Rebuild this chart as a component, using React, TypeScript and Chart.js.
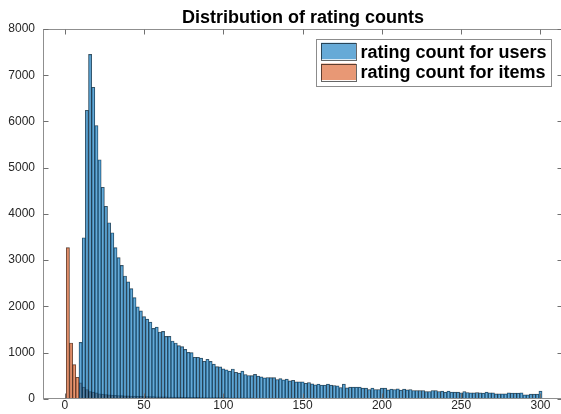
import React, { useEffect, useRef } from 'react';
import { Chart, registerables } from 'chart.js';

Chart.register(...registerables);

const chartTitle = 'Distribution of rating counts';
const seriesNames = ['rating count for users', 'rating count for items'];

const binWidth = 2;
const userFirstBinCenter = 10;
const itemFirstBinCenter = 2;

// users histogram, bins centred at 10, 12, ..., 300
const userCounts = [
  1221, 3484, 6243, 7450, 6740, 5912, 5172, 4576, 4166, 3808,
  3592, 3269, 3053, 2887, 2657, 2528, 2385, 2190, 1990, 1903,
  1778, 1724, 1660, 1523, 1550, 1445, 1458, 1351, 1351, 1250,
  1207, 1149, 1130, 1070, 1006, 1000, 898, 898, 880, 812,
  855, 810, 750, 695, 690, 647, 625, 600, 645, 575,
  556, 600, 525, 505, 500, 530, 489, 474, 453, 460,
  457, 457, 417, 438, 410, 424, 388, 402, 366, 366,
  366, 337, 352, 323, 302, 316, 295, 295, 316, 295,
  287, 280, 244, 316, 237, 251, 251, 251, 251, 230,
  230, 201, 230, 201, 201, 230, 230, 194, 208, 201,
  215, 187, 208, 194, 201, 180, 180, 180, 180, 158,
  158, 180, 180, 158, 165, 144, 165, 144, 144, 144,
  129, 158, 136, 129, 129, 136, 129, 122, 144, 129,
  129, 108, 108, 108, 108, 129, 122, 122, 122, 129,
  86, 86, 101, 101, 101, 165,
];

// items histogram, bins centred at 2, 4, ..., 300
const itemCounts = [
  3270, 1207, 740, 467, 345, 252, 201, 157, 144, 129,
  110, 101, 93, 86, 80, 76, 72, 69, 64, 62,
  60, 57, 55, 54, 50, 49, 47, 46, 44, 42,
  41, 40, 39, 37, 36, 35, 34, 33, 32, 31,
  30, 30, 29, 28, 27, 27, 26, 25, 25, 24,
  24, 23, 22, 22, 21, 21, 20, 19, 19, 18,
  18, 17, 17, 16, 16, 15, 15, 15, 14, 14,
  14, 13, 13, 13, 12, 12, 12, 11, 11, 11,
  11, 10, 10, 10, 10, 9, 9, 9, 9, 9,
  8, 8, 8, 8, 8, 8, 7, 7, 7, 7,
  7, 7, 7, 6, 6, 6, 6, 6, 6, 6,
  6, 5, 5, 5, 5, 5, 5, 5, 5, 5,
  5, 4, 4, 4, 4, 4, 4, 4, 4, 4,
  4, 4, 4, 3, 3, 3, 3, 3, 3, 3,
  3, 3, 3, 3, 3, 3, 3, 3, 3, 3,
];

const xTickValues = [0, 50, 100, 150, 200, 250, 300];
const yTickValues = [0, 1000, 2000, 3000, 4000, 5000, 6000, 7000, 8000];
const xLimits = [-13.7, 314.2];
const yLimits = [0, 8000];

const FONT = '"Liberation Sans", Arial, Helvetica, sans-serif';
const TEXT = '#262626';
const AXIS_LINE = '#8f8f8f';
const TICK_LINE = '#707070';
const USER_FILL = 'rgba(0,114,189,0.6)';
const ITEM_FILL = 'rgba(217,83,25,0.6)';
const EDGE = 'rgba(0,0,0,0.7)';

const toPoints = (first: number, counts: number[]) =>
  counts.map((y, i) => ({ x: first + i * binWidth, y }));

const matlabAxes = {
  id: 'matlabAxes',
  afterDatasetsDraw(chart: any) {
    const { ctx, chartArea: a } = chart;
    const xs = chart.scales.x;
    const ys = chart.scales.y;
    ctx.save();
    const L = Math.round(a.left) + 0.5;
    const R = Math.round(a.right) - 0.5;
    const T = Math.round(a.top) + 0.5;
    const B = Math.round(a.bottom) - 0.5;
    ctx.lineWidth = 1;
    ctx.strokeStyle = AXIS_LINE;
    ctx.strokeRect(L, T, R - L, B - T);
    const tl = 5;
    ctx.strokeStyle = TICK_LINE;
    ctx.beginPath();
    for (const v of xTickValues) {
      const px = Math.round(xs.getPixelForValue(v)) + 0.5;
      ctx.moveTo(px, B);
      ctx.lineTo(px, B - tl);
      ctx.moveTo(px, T);
      ctx.lineTo(px, T + tl);
    }
    for (const v of yTickValues) {
      const py = Math.round(ys.getPixelForValue(v)) + 0.5;
      ctx.moveTo(L, py);
      ctx.lineTo(L + tl, py);
      ctx.moveTo(R, py);
      ctx.lineTo(R - tl, py);
    }
    ctx.stroke();

    // title
    ctx.fillStyle = '#000';
    ctx.font = `bold 18px ${FONT}`;
    ctx.textAlign = 'center';
    ctx.textBaseline = 'alphabetic';
    ctx.fillText(chartTitle, (a.left + a.right) / 2, 23);

    // legend
    ctx.font = `bold 18px ${FONT}`;
    const textW = Math.max(...seriesNames.map((s) => ctx.measureText(s).width));
    const padL = 4.5, patchW = 35, patchH = 16.5, gap = 4.5, padR = 4.5, rowH = 20.8;
    const boxW = padL + patchW + gap + textW + padR;
    const boxH = 47;
    const boxRight = a.right - 12;
    const boxTop = a.top + 10;
    const boxX = boxRight - boxW;
    ctx.fillStyle = '#fff';
    ctx.fillRect(boxX, boxTop, boxW, boxH);
    ctx.strokeStyle = '#8c8c8c';
    ctx.strokeRect(Math.round(boxX) + 0.5, Math.round(boxTop) + 0.5, Math.round(boxW), Math.round(boxH));
    chart.data.datasets.forEach((ds: any, i: number) => {
      const cy = boxTop + 12 + i * rowH;
      const px = boxX + padL;
      ctx.fillStyle = ds.backgroundColor;
      ctx.fillRect(px, cy - patchH / 2, patchW, patchH);
      ctx.strokeStyle = 'rgba(0,0,0,0.6)';
      ctx.strokeRect(Math.round(px) + 0.5, Math.round(cy - patchH / 2) + 0.5, patchW, Math.round(patchH));
      ctx.fillStyle = '#000';
      ctx.textAlign = 'left';
      ctx.textBaseline = 'alphabetic';
      ctx.fillText(ds.label, px + patchW + gap, cy + 6.5);
    });
    ctx.restore();
  },
};

export default function App() {
  const ref = useRef<HTMLCanvasElement>(null);
  useEffect(() => {
    if (!ref.current) return;
    const chart = new Chart(ref.current, {
      type: 'bar',
      data: {
        datasets: [
          {
            label: seriesNames[0],
            data: toPoints(userFirstBinCenter, userCounts) as any,
            backgroundColor: USER_FILL,
            borderColor: EDGE,
            borderWidth: 0.5,
            grouped: false,
            barPercentage: 1,
            categoryPercentage: 1,
          } as any,
          {
            label: seriesNames[1],
            data: toPoints(itemFirstBinCenter, itemCounts) as any,
            backgroundColor: ITEM_FILL,
            borderColor: EDGE,
            borderWidth: 0.5,
            grouped: false,
            barPercentage: 1,
            categoryPercentage: 1,
          } as any,
        ],
      },
      options: {
        animation: false,
        responsive: false,
        devicePixelRatio: 1,
        layout: { padding: { top: 29, left: 0, right: 0, bottom: 0 } },
        plugins: {
          legend: { display: false },
          title: { display: false },
          tooltip: { enabled: false },
        },
        scales: {
          x: {
            type: 'linear',
            min: xLimits[0],
            max: xLimits[1],
            offset: false,
            grid: { display: false, drawTicks: false },
            border: { display: false },
            afterBuildTicks: (scale: any) => {
              scale.ticks = xTickValues.map((v) => ({ value: v }));
            },
            afterFit: (scale: any) => {
              scale.height = 14;
            },
            ticks: {
              autoSkip: false,
              maxRotation: 0,
              padding: 0,
              color: TEXT,
              font: { family: FONT, size: 12 },
              callback: (v: any) => String(v),
            },
          },
          y: {
            type: 'linear',
            min: yLimits[0],
            max: yLimits[1],
            grid: { display: false, drawTicks: false },
            border: { display: false },
            afterBuildTicks: (scale: any) => {
              scale.ticks = yTickValues.map((v) => ({ value: v }));
            },
            afterFit: (scale: any) => {
              scale.width = 43;
            },
            ticks: {
              autoSkip: false,
              padding: 8,
              color: TEXT,
              font: { family: FONT, size: 12 },
              callback: (v: any) => String(v),
            },
          },
        },
      } as any,
      plugins: [matlabAxes],
    });
    return () => chart.destroy();
  }, []);
  return (
    <div style={{ position: 'fixed', left: 0, top: 0, width: 561, height: 414, overflow: 'hidden', background: '#fff' }}>
      <canvas ref={ref} width={563} height={414} style={{ display: 'block', width: 563, height: 414 }} />
    </div>
  );
}
